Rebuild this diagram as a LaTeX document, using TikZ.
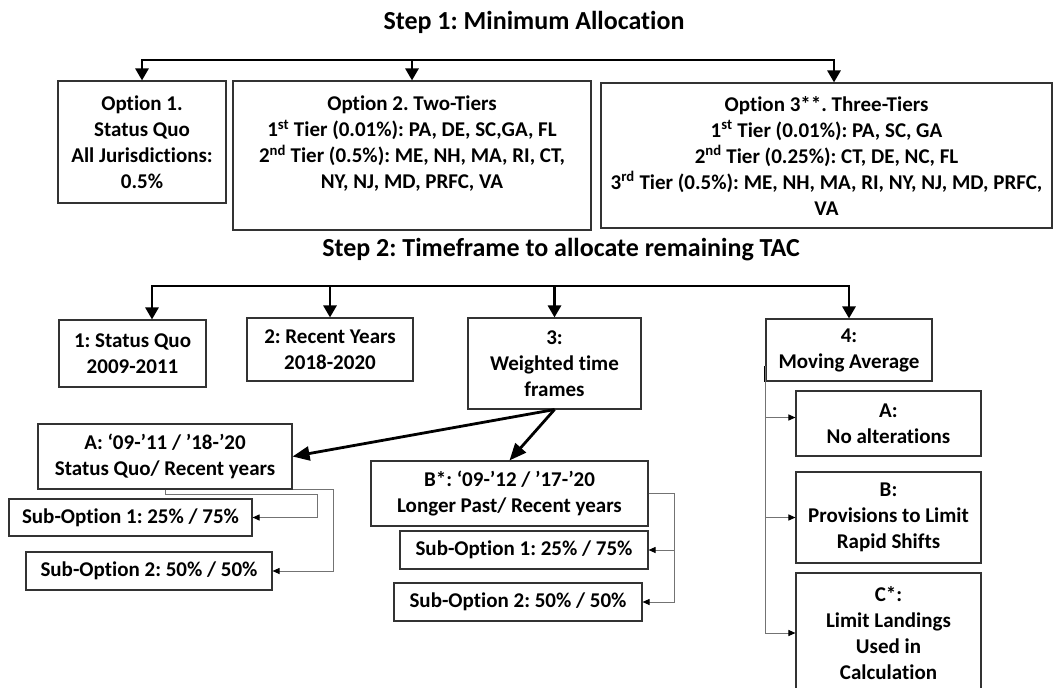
\documentclass[tikz,border=0pt]{standalone}
\usepackage{fontspec}
\setmainfont{Carlito}[Ligatures={NoCommon}]
\frenchspacing
\usetikzlibrary{arrows.meta}

\begin{document}
\begin{tikzpicture}[x=1pt, y=-1pt, >={Triangle[length=12pt,width=13pt]},
  box/.style={draw=black!80, line width=1.1pt, align=center, inner sep=0pt,
    font=\bfseries\fontsize{21}{26}\selectfont},
  steptitle/.style={font=\bfseries\fontsize{26}{31}\selectfont},
  bigarrow/.style={line width=2.8pt, ->},
  diagarrow/.style={line width=2.8pt, -{Triangle[length=17pt,width=14pt]}},
  thinarrow/.style={draw=black!55, line width=1pt, -{Triangle[length=7pt,width=6pt,black]}}]
\path[use as bounding box, fill=white] (0,0) rectangle (1055,688);

\node[steptitle] (title1) at (534,22) {Step 1: Minimum Allocation};
\node[box, minimum width=168pt, minimum height=122pt] (opt1) at (142,142)
    {Option 1.\\ Status Quo\\ All Jurisdictions:\\ 0.5\%};
\node[box] (opt2) at (412,155.5) {\parbox[c][149pt][t]{358pt}{\centering\vspace*{15pt}%
    Option 2. Two-Tiers\\
    1\textsuperscript{st} Tier (0.01\%): PA, DE, SC,GA, FL\\
    2\textsuperscript{nd} Tier (0.5\%): ME, NH, MA, RI, CT,\\
    NY, NJ, MD, PRFC, VA}};
\node[box, minimum width=451pt, minimum height=145pt] (opt3) at (826.5,155.5)
    {Option 3**. Three-Tiers\\
     1\textsuperscript{st} Tier (0.01\%): PA, SC, GA\\
     2\textsuperscript{nd} Tier (0.25\%): CT, DE, NC, FL\\
     3\textsuperscript{rd} Tier (0.5\%): ME, NH, MA, RI, NY, NJ, MD, PRFC,\\
     VA};

\coordinate (s1l) at (142,60);
\coordinate (s1r) at (834,60);
\draw[bigarrow] (s1r) -- (s1l) -- (opt1.north);
\draw[bigarrow] (s1l) -- (s1r) -- (s1r |- opt3.north);
\draw[bigarrow] (opt2.north |- s1l) -- (opt2.north);

\node[steptitle] (title2) at (561,250) {Step 2: Timeframe to allocate remaining TAC};
\node[box, minimum width=147pt, minimum height=67pt] (t1) at (132.5,353.5) {1: Status Quo\\ 2009-2011};
\node[box, minimum width=166pt, minimum height=63pt] (t2) at (330,349.5) {2: Recent Years\\ 2018-2020};
\node[box, minimum width=173pt, minimum height=91pt] (t3) at (554.5,363.5) {3:\\ Weighted time\\ frames};
\node[box, minimum width=166pt, minimum height=62pt] (t4) at (849,350) {4:\\ Moving Average};

\coordinate (s2l) at (152,286);
\coordinate (s2r) at (849,286);
\draw[bigarrow] (s2r) -- (s2l) -- (s2l |- t1.north);
\draw[bigarrow] (s2l) -- (s2r) -- (t4.north);
\draw[bigarrow] (t2.north |- s2l) -- (t2.north);
\draw[bigarrow] (t3.north |- s2l) -- (t3.north);

\node[box, minimum width=254pt, minimum height=65pt] (wa) at (165,456.5) {A: ‘09-’11 / ’18-’20\\ Status Quo/ Recent years};
\node[box, minimum width=243pt, minimum height=37pt] (wa1) at (130.5,517.5) {Sub-Option 1: 25\% / 75\%};
\node[box, minimum width=246pt, minimum height=38pt] (wa2) at (149,571) {Sub-Option 2: 50\% / 50\%};
\node[box, minimum width=277pt, minimum height=65pt] (wb) at (509.5,493.5) {B*: ‘09-’12 / ’17-’20\\ Longer Past/ Recent years};
\node[box, minimum width=248pt, minimum height=38pt] (wb1) at (524,550) {Sub-Option 1: 25\% / 75\%};
\node[box, minimum width=248pt, minimum height=38pt] (wb2) at (518,602) {Sub-Option 2: 50\% / 50\%};

\draw[diagarrow] (t3.south) -- (wa.east);
\draw[diagarrow] (t3.south) -- (wb.north);
\draw[thinarrow] (wa.south) -- ++(0,5) -| ([xshift=65pt]wa1.east) -- (wa1.east);
\draw[thinarrow] (wa.south east) -| ([xshift=61pt]wa2.east) -- (wa2.east);
\draw[thinarrow] (wb.east) -| ([xshift=26pt]wb1.east) -- (wb1.east);
\draw[thinarrow] ([xshift=26pt]wb1.east) |- (wb2.east);

\node[box, minimum width=185pt, minimum height=65pt] (ma) at (888.5,423.5) {A:\\ No alterations};
\node[box, minimum width=185pt, minimum height=91pt] (mb) at (888.5,517.5) {B:\\ Provisions to Limit\\ Rapid Shifts};
\node[box, minimum width=185pt, minimum height=120pt] (mc) at (888.5,633) {C*:\\ Limit Landings\\ Used in\\ Calculation};

\coordinate (mtop) at (765,366);
\draw[line width=2pt] (mtop) -- (mtop |- t4.south);
\draw[thinarrow] (mtop) |- ([yshift=6pt]ma.west);
\draw[thinarrow] (mtop) |- (mb.west);
\draw[thinarrow] (mtop) |- (mc.west);
\end{tikzpicture}
\end{document}
